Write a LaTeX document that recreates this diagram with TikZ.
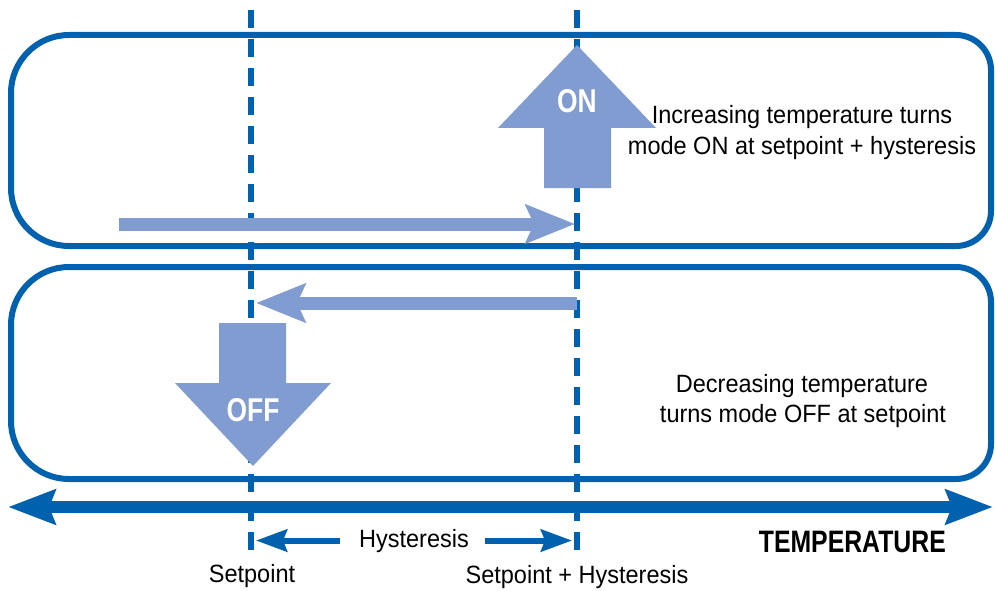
\documentclass[tikz,border=0pt]{standalone}
\usepackage{fontspec}
\setmainfont{Liberation Sans}[FakeStretch=0.94]
\newfontfamily\condbold{Liberation Sans Bold}[FakeStretch=0.8]
\usetikzlibrary{arrows.meta}
\definecolor{dblue}{HTML}{0061AF}
\definecolor{lblue}{HTML}{819CD1}
\begin{document}
\begin{tikzpicture}[x=1pt,y=-1pt,
  modebox/.style={draw=dblue, line width=6pt},
  guide/.style={draw=dblue, line width=6pt, dash pattern=on 18pt off 11pt},
  flow/.style={draw=lblue, line width=13pt, -{Stealth[length=49pt,width=38pt,inset=8pt]}},
  blockarrow/.style={fill=lblue, draw=none},
  axisline/.style={draw=dblue, line width=12pt, {Stealth[length=47pt,width=34pt,inset=6pt]}-{Stealth[length=47pt,width=34pt,inset=6pt]}},
  hyst/.style={draw=dblue, line width=6pt, -{Stealth[length=31pt,width=22pt,inset=4pt]}},
  lbl/.style={inner sep=0pt, anchor=base, font=\fontsize{25}{30}\selectfont},
  modelbl/.style={inner sep=0pt, text=white, font=\fontsize{33}{36}\condbold},
]
\useasboundingbox (0,0) rectangle (995,591);

% mode boxes
\draw[modebox] (69,35) -- (956,35) arc[start angle=-90,end angle=0,radius=35]
  -- (991,211) arc[start angle=0,end angle=90,radius=35]
  -- (69,246) arc[start angle=90,end angle=180,radius=58]
  -- (11,93) arc[start angle=180,end angle=270,radius=58] -- cycle;
\draw[modebox] (69,267) -- (956,267) arc[start angle=-90,end angle=0,radius=35]
  -- (991,444) arc[start angle=0,end angle=90,radius=35]
  -- (69,479) arc[start angle=90,end angle=180,radius=58]
  -- (11,325) arc[start angle=180,end angle=270,radius=58] -- cycle;

% guide lines
\coordinate (sptop) at (251,10);
\coordinate (spbot) at (251,558);
\coordinate (shtop) at (577,10);
\coordinate (shbot) at (577,558);
\draw[guide] (sptop) -- (spbot);
\draw[guide] (shtop) -- (shbot);

% flow arrows
\coordinate (upstart) at (119,224);
\coordinate (upend) at (575,224);
\coordinate (downstart) at (577,303);
\coordinate (downend) at (256,303);
\draw[flow] (upstart) -- (upend);
\draw[flow] (downstart) -- (downend);

% ON / OFF block arrows
\fill[blockarrow] (544,188) -- (544,128) -- (498,128) -- (577,45) -- (656,128) -- (611,128) -- (611,188) -- cycle;
\node[modelbl] (on) at (577,101) {ON};
\fill[blockarrow] (219,323) -- (286,323) -- (286,383) -- (331,383) -- (253,466) -- (175,383) -- (219,383) -- cycle;
\node[modelbl] (off) at (253,410) {OFF};

% temperature axis
\coordinate (axl) at (8,507);
\coordinate (axr) at (993,507);
\draw[axisline] (axl) -- (axr);

% hysteresis
\node[lbl] (hys) at (414,547) {Hysteresis};
\coordinate (hl) at (256,537);
\coordinate (hr) at (572,537);
\draw[hyst] (hys.west) ++(-19,0) coordinate (hlstart) -- (hl |- hlstart);
\draw[hyst] (hys.east) ++(16,0) coordinate (hrstart) -- (hr |- hrstart);

% labels
\node[lbl] (sp) at (252,582) {Setpoint};
\node[lbl] (sph) at (577,583) {Setpoint + Hysteresis};
\node[inner sep=0pt, anchor=base east, font=\fontsize{31}{34}\condbold] (temp) at (946,552) {TEMPERATURE};

\node[lbl] (inc1) at (802,124) {Increasing temperature turns};
\node[lbl] (inc2) at (802,154) {mode ON at setpoint + hysteresis};
\node[lbl] (dec1) at (802,392) {Decreasing temperature};
\node[lbl] (dec2) at (803,422) {turns mode OFF at setpoint};
\end{tikzpicture}
\end{document}
